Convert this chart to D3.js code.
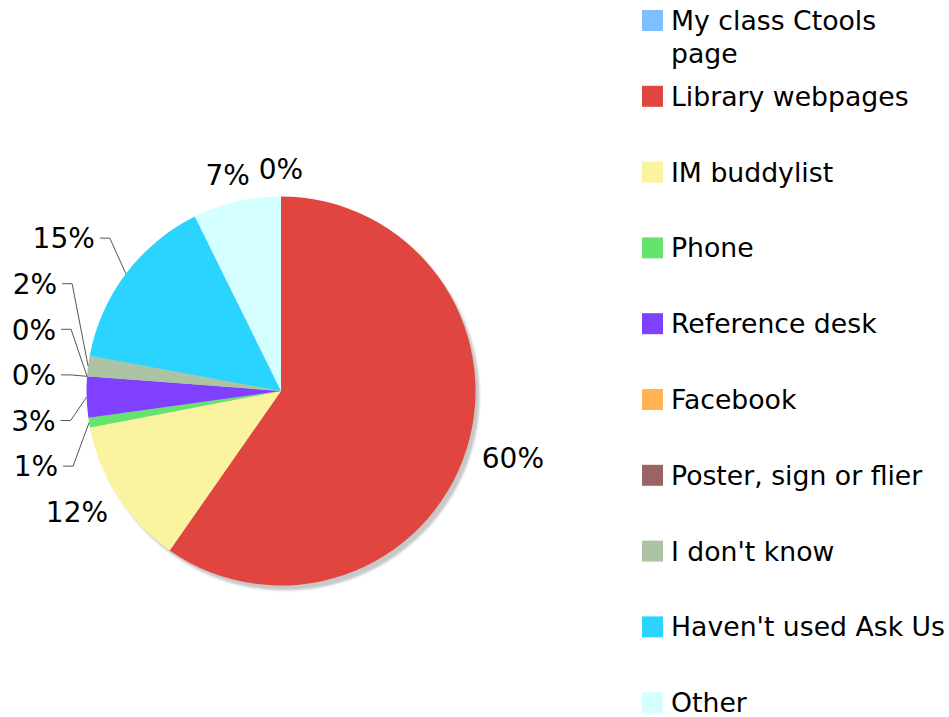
<!DOCTYPE html>
<html>
<head>
<meta charset="utf-8">
<script src="https://cdnjs.cloudflare.com/ajax/libs/d3/7.8.5/d3.min.js"></script>
<style>
body { margin:0; background:#fff; }
svg text { font-family:"DejaVu Sans", Verdana, sans-serif; fill:#000; }
</style>
</head>
<body>
<svg id="chart" width="949" height="717"></svg>
<script>
var categories = ["My class Ctools page", "Library webpages", "IM buddylist", "Phone",
	"Reference desk", "Facebook", "Poster, sign or flier", "I don't know",
	"Haven't used Ask Us", "Other"];
var values = [0, 59.7, 12.3, 0.8, 3.4, 0, 0, 1.7, 14.8, 7.3];	// percent
var colors = ["#80bfff", "#e0463f", "#faf3a0", "#66e36e", "#8040ff",
	"#ffb356", "#9a6466", "#adc4a4", "#2ad4ff", "#d4ffff"];

var cx = 281, cy = 391, radius = 194.5;
var fontSize = 26.7, labelFont = 28;
var labelR = 212, digitH = 20, gap = 45.6;

var svg = d3.select("#chart");
var total = d3.sum(values);
var fmt = d3.format(".0%");

// shadow
var defs = svg.append("defs");
defs.append("filter").attr("id", "blur")
	.append("feGaussianBlur").attr("stdDeviation", 1.2);
svg.append("circle")
	.attr("cx", cx + 4).attr("cy", cy + 5).attr("r", radius)
	.attr("fill", "#c8c8c8")
	.attr("filter", "url(#blur)");

var pie = d3.pie().sort(null).value(function(d) { return d; });
var arc = d3.arc().innerRadius(0).outerRadius(radius);
var arcs = pie(values);

var g = svg.append("g").attr("transform", "translate(" + cx + "," + cy + ")");
g.selectAll("path.slice")
	.data(arcs)
	.enter().append("path")
	.attr("class", "slice")
	.attr("d", arc)
	.attr("fill", function(d, i) { return colors[i]; });

// labels
var lg = svg.append("g");
var labels = arcs.map(function(a, i) {
	var mid = (a.startAngle + a.endAngle) / 2;
	var s = Math.sin(mid), c = Math.cos(mid);
	var t = lg.append("text")
		.style("font-size", labelFont + "px")
		.text(fmt(values[i] / total));
	var w = t.node().getComputedTextLength();
	var nx = cx + labelR * s + (w / 2) * s;
	var ny = cy - labelR * c - (digitH / 2) * c;
	return {i:i, mid:mid, s:s, c:c, el:t, w:w, nx:nx, ny:ny, y:ny, leader:false};
});

function spread(list) {
	var n = list.length, k;
	if(n < 2) return;
	for(k = 1; k < n; k++) {
		list[k].y = Math.max(list[k].y, list[k-1].y + gap);
	}
	list[n-1].y = list[n-1].ny;
	for(k = n - 2; k >= 0; k--) {
		list[k].y = Math.min(list[k].y, list[k+1].y - gap);
	}
	for(k = 0; k < n; k++) {
		var hit = (k > 0 && Math.abs(list[k].ny - list[k-1].ny) < gap) ||
			(k < n - 1 && Math.abs(list[k].ny - list[k+1].ny) < gap);
		list[k].leader = hit || Math.abs(list[k].y - list[k].ny) > 1;
	}
}

var left = labels.filter(function(l) { return l.s < -0.001; })
	.sort(function(a, b) { return (b.mid - a.mid) || (b.i - a.i); });
var right = labels.filter(function(l) { return l.s >= -0.001; })
	.sort(function(a, b) { return (a.mid - b.mid) || (a.i - b.i); });
spread(left);
spread(right);

labels.forEach(function(l) {
	var base = l.y + 0.365 * labelFont;
	if(l.leader) {
		var dir = l.s < 0 ? -1 : 1;
		var ex = cx + radius * l.s, ey = cy - radius * l.c;
		var pts = [[ex, ey], [ex + dir * 16, l.y], [ex + dir * 26, l.y]];
		lg.append("path")
			.attr("d", d3.line()(pts))
			.attr("fill", "none")
			.attr("stroke", "#555")
			.attr("stroke-width", 1);
		l.el.attr("x", ex + dir * 31).attr("y", base)
			.attr("text-anchor", dir < 0 ? "end" : "start");
	} else {
		l.el.attr("x", l.nx).attr("y", base).attr("text-anchor", "middle");
	}
});

// legend
var legX = 642, legTop = 10, rowH = 75.8, sw = 21, maxW = 277, lineH = 32.7;
var leg = svg.append("g");
categories.forEach(function(name, i) {
	var top = legTop + i * rowH;
	leg.append("rect")
		.attr("x", legX).attr("y", top)
		.attr("width", sw).attr("height", sw)
		.attr("fill", colors[i]);
	var t = leg.append("text")
		.attr("x", legX + 29).attr("y", top + 20)
		.style("font-size", fontSize + "px");
	var words = name.split(" "), line = [];
	var ts = t.append("tspan").attr("x", legX + 29).attr("dy", 0);
	words.forEach(function(word) {
		line.push(word);
		ts.text(line.join(" "));
		if(ts.node().getComputedTextLength() > maxW && line.length > 1) {
			line.pop();
			ts.text(line.join(" "));
			line = [word];
			ts = t.append("tspan").attr("x", legX + 29).attr("dy", lineH).text(word);
		}
	});
});
</script>
</body>
</html>
